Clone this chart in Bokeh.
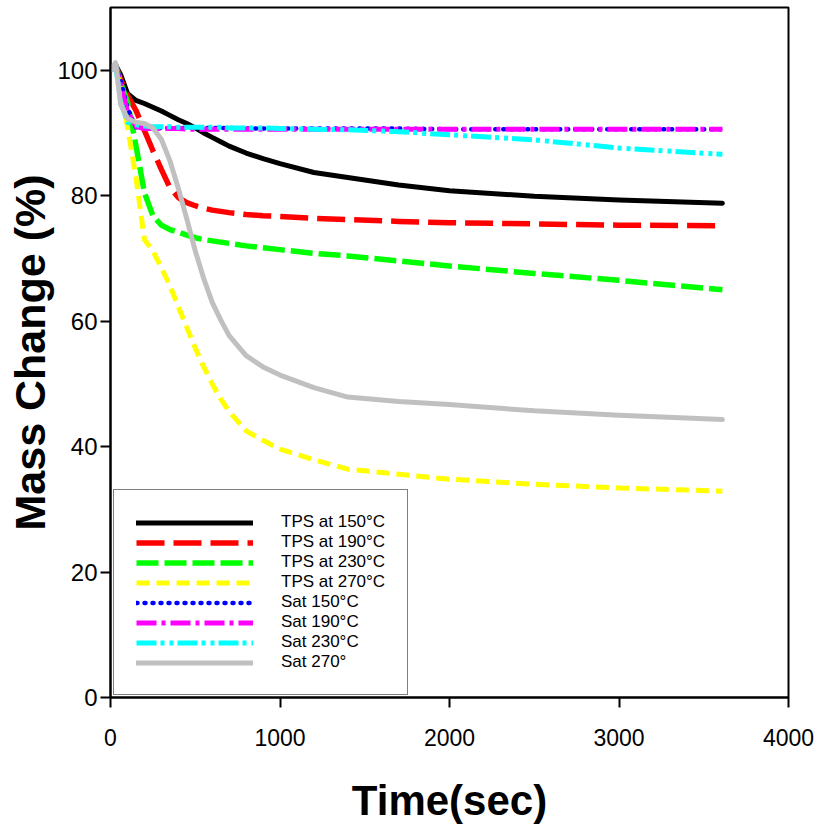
from bokeh.plotting import figure
from bokeh.models import Legend, LegendItem, FixedTicker, Range1d
from bokeh.embed import file_html
from bokeh.resources import INLINE

# ---------------- data ----------------
time_s = [0, 30, 60, 100, 150, 200, 250, 300, 350, 400, 450, 500, 550, 600, 650, 700,
          800, 900, 1000, 1200, 1400, 1700, 2000, 2500, 3000, 3610]

tps_150 = [100, 100.8, 99.3, 96.3, 95.2, 94.7, 94.1, 93.5, 92.8, 92.1, 91.5, 90.8, 90.0,
           89.3, 88.6, 87.9, 86.8, 85.9, 85.1, 83.7, 82.9, 81.7, 80.8, 79.9, 79.3, 78.8]
tps_190 = [100, 100.8, 98.5, 96.0, 93.6, 90.4, 87.2, 84.2, 81.3, 79.7, 78.9, 78.4, 78.0,
           77.7, 77.5, 77.3, 77.0, 76.8, 76.7, 76.4, 76.2, 75.9, 75.7, 75.5, 75.3, 75.2]
tps_230 = [100, 100.8, 98.0, 95.0, 88.0, 80.5, 76.8, 75.3, 74.6, 74.2, 73.7, 73.3, 73.0,
           72.8, 72.6, 72.4, 72.0, 71.7, 71.4, 70.8, 70.4, 69.6, 68.8, 67.6, 66.5, 65.0]
tps_270 = [100, 100.8, 97.0, 91.0, 83.0, 73.0, 71.2, 68.5, 65.7, 62.3, 59.0, 55.7, 52.7,
           50.0, 47.6, 45.6, 42.5, 41.0, 39.6, 37.9, 36.4, 35.6, 34.8, 34.0, 33.4, 32.9]
sat_150 = [100, 100.8, 98.3, 94.0, 90.9, 90.8, 90.8, 90.8, 90.8, 90.8, 90.8, 90.8, 90.8,
           90.8, 90.8, 90.8, 90.7, 90.7, 90.7, 90.7, 90.7, 90.7, 90.6, 90.6, 90.6, 90.6]
sat_190 = [100, 100.8, 97.5, 93.5, 91.0, 90.7, 90.7, 90.7, 90.7, 90.7, 90.6, 90.6, 90.6,
           90.6, 90.6, 90.6, 90.6, 90.6, 90.6, 90.6, 90.6, 90.6, 90.6, 90.6, 90.6, 90.6]
sat_230 = [100, 100.8, 95.0, 91.7, 91.3, 91.1, 91.0, 91.0, 91.0, 90.9, 90.9, 90.9, 90.9,
           90.9, 90.9, 90.8, 90.8, 90.8, 90.7, 90.6, 90.5, 90.2, 89.7, 88.9, 87.6, 86.6]
sat_270 = [100, 101.2, 94.5, 92.3, 91.7, 91.5, 90.8, 89.0, 85.6, 81.2, 76.3, 71.2, 66.8,
           63.0, 60.2, 57.7, 54.5, 52.7, 51.4, 49.4, 47.9, 47.2, 46.7, 45.7, 45.0, 44.3]

labels = ["TPS at 150\u00b0C", "TPS at 190\u00b0C", "TPS at 230\u00b0C", "TPS at 270\u00b0C",
          "Sat 150\u00b0C", "Sat 190\u00b0C", "Sat 230\u00b0C", "Sat 270\u00b0"]
series = [tps_150, tps_190, tps_230, tps_270, sat_150, sat_190, sat_230, sat_270]
colors = ["#000000", "#ff0000", "#00ff00", "#ffff00",
          "#0000ff", "#ff00ff", "#00ffff", "#c0c0c0"]
dashes = ["solid", "28 9", "22 6", "13 7", "1 7", "20 5 4 5", "20 4 4 5 4 4", "solid"]
caps = ["round", "butt", "butt", "butt", "round", "butt", "butt", "round"]
widths = [5, 5.5, 5.5, 5, 4.5, 5, 5, 5]

x_ticks = [0, 1000, 2000, 3000, 4000]
y_ticks = [0, 20, 40, 60, 80, 100]

SANS = "Liberation Sans"

p = figure(width=825, height=826, output_backend="svg", toolbar_location=None,
           x_range=Range1d(0, 4000), y_range=Range1d(0, 110),
           min_border_left=110, min_border_right=37, min_border_top=7,
           min_border_bottom=128)

renderers = []
for ys, c, d, cap, w in zip(series, colors, dashes, caps, widths):
    r = p.line(time_s, ys, line_color=c, line_width=w, line_dash=d,
               line_cap=cap, line_join="round")
    renderers.append(r)

p.xgrid.visible = False
p.ygrid.visible = False
p.outline_line_color = "black"
p.outline_line_width = 2
p.background_fill_color = "white"
p.border_fill_color = "white"

for ax in (p.xaxis[0], p.yaxis[0]):
    ax.axis_line_width = 2
    ax.axis_line_color = "black"
    ax.major_tick_out = 10
    ax.major_tick_in = 0
    ax.major_tick_line_width = 2
    ax.minor_tick_out = 0
    ax.minor_tick_in = 0
    ax.major_label_text_font = SANS
    ax.major_label_text_color = "black"
    ax.axis_label_text_font = SANS
    ax.axis_label_text_font_style = "bold"
    ax.axis_label_text_color = "black"

p.xaxis[0].ticker = FixedTicker(ticks=x_ticks)
p.yaxis[0].ticker = FixedTicker(ticks=y_ticks)
p.xaxis[0].major_label_text_font_size = "23px"
p.yaxis[0].major_label_text_font_size = "24px"
p.xaxis[0].major_label_standoff = 21
p.yaxis[0].major_label_standoff = 3
p.xaxis[0].axis_label = "Time(sec)"
p.yaxis[0].axis_label = "Mass Change (%)"
p.xaxis[0].axis_label_text_font_size = "42px"
p.yaxis[0].axis_label_text_font_size = "43px"
p.xaxis[0].axis_label_standoff = 28
p.yaxis[0].axis_label_standoff = 0

legend = Legend(
    items=[LegendItem(label=l, renderers=[r]) for l, r in zip(labels, renderers)],
    location=(3, 2),
    border_line_color="black", border_line_width=1.5,
    background_fill_color="white", background_fill_alpha=1.0,
    padding=22, spacing=0, margin=0,
    glyph_width=117, glyph_height=19, label_height=19, label_standoff=28,
    label_text_font=SANS, label_text_font_size="17px",
    label_text_color="black",
)
p.add_layout(legend)

open("out.html", "w").write(file_html(p, INLINE))
